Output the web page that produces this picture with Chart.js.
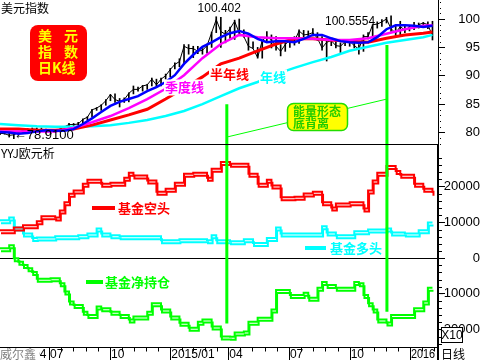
<!DOCTYPE html>
<html>
<head>
<meta charset="utf-8">
<script src="https://cdn.jsdelivr.net/npm/chart.js@4.4.0/dist/chart.umd.min.js"></script>
<style>
  html, body { margin: 0; padding: 0; background: #fff; }
  #wrap { position: relative; width: 480px; height: 360px; overflow: hidden; }
  #top { position: absolute; left: 0; top: 0; }
  #bottom { position: absolute; left: 0; top: 145px; }
</style>
</head>
<body>
<div id="wrap">
  <canvas id="top" width="480" height="145"></canvas>
  <canvas id="bottom" width="480" height="215"></canvas>
</div>
<script>
// US dollar index, one bar per week (week 0 = mid April 2014)
const dxyHigh = [80.2,80.1,79.9,79.8,80.2,80.4,80.7,80.8,80.8,80.8,80.6,80.4,80.3,80.6,81.1,81.6,81.6,81.8,82.4,82.8,
  84.1,84.4,84.9,85.8,86.7,86.8,86.0,86.1,87.0,88.2,88.0,88.3,88.5,89.6,89.4,89.6,90.3,91.3,92.3,93.0,
  95.5,95.5,95.2,95.2,94.8,95.6,97.7,100.4,100.3,98.0,98.6,99.8,100.0,98.1,97.1,96.0,95.0,96.3,97.8,97.2,
  96.9,95.5,95.8,96.5,96.9,98.1,98.0,97.9,98.3,97.6,96.9,96.2,96.5,96.3,95.8,96.4,96.3,96.3,95.5,97.2,
  97.6,99.0,99.5,99.9,100.3,100.56,98.8,99.6,98.8,98.9,99.4,99.3,99.4,99.5,99.6];
const dxyLow = [79.6,79.7,79.2,78.91,79.5,79.9,80.3,80.4,80.4,80.3,79.9,79.8,80.0,80.1,80.6,80.9,81.2,81.3,81.6,82.2,
  82.7,83.9,83.9,84.8,85.6,85.3,84.5,85.3,85.4,86.8,87.3,87.3,87.6,88.2,87.9,88.2,89.4,89.8,91.2,91.6,
  92.2,93.8,93.2,93.9,93.8,94.0,95.0,97.6,95.0,95.8,96.4,96.4,97.1,96.8,94.5,94.8,93.1,93.1,96.1,94.9,
  94.5,93.5,94.3,95.0,95.4,95.7,96.8,96.7,97.0,96.2,94.5,92.6,95.3,94.9,94.1,95.3,95.2,94.9,93.8,94.3,
  96.5,96.7,98.4,98.7,99.3,97.8,96.9,97.2,97.6,97.9,98.1,98.4,98.5,98.3,96.3];
const dxyClose = [79.85,79.8,79.5,79.6,80.0,80.4,80.4,80.6,80.6,80.4,80.1,80.2,80.2,80.6,81.0,81.4,81.4,81.5,82.3,82.7,
  84.0,84.3,84.8,85.6,86.7,85.8,85.5,85.8,86.9,87.6,87.6,88.2,88.4,89.4,88.4,89.4,90.0,91.1,92.0,92.5,
  95.2,94.8,94.8,94.3,94.5,95.3,97.6,99.9,97.8,97.3,98.3,99.6,97.5,96.9,95.2,94.8,93.2,96.2,96.9,96.3,
  95.2,94.3,95.5,96.3,96.1,97.9,97.2,97.3,97.6,96.6,94.9,95.9,96.2,95.3,95.2,96.0,96.1,95.3,94.7,96.9,
  96.9,99.0,99.1,99.5,100.0,98.3,97.5,98.7,98.0,98.6,98.4,99.0,99.3,99.0,97.0];

// moving averages: blue read every 2 weeks, the slower ones every 4 weeks
const fastWeeks = [0,2,4,6,8,10,12,14,16,18,20,22,24,26,28,30,32,34,36,38,40,42,44,46,
  48,50,52,54,56,58,60,62,64,66,68,70,72,74,76,78,80,82,84,86,88,90,92,94];
const maBlue = [80.1,80.0,79.8,79.9,80.2,80.4,80.3,80.3,80.6,81.5,82.5,83.6,84.7,85.4,85.9,86.4,87.3,88.0,88.9,90.1,92.1,93.7,95.1,95.9,
  96.8,97.5,97.9,97.4,96.5,95.9,96.1,96.1,95.9,96.5,97.2,97.2,96.6,96.1,95.9,95.8,95.9,96.8,98.2,98.9,98.9,98.8,98.6,98.8];
const slowWeeks = [0,4,8,12,16,20,24,28,32,36,40,44,48,52,56,60,64,68,72,76,80,84,88,92,94];
const maQuarter = [80.2,80.2,80.2,80.2,80.8,81.8,82.9,84.3,85.9,87.7,90.1,93.1,95.6,97.2,96.8,96.6,96.6,96.5,96.3,96.3,96.6,97.4,98.2,98.8,98.9];
const maHalfYear = [80.6,80.6,80.4,80.4,80.6,81.3,82.2,83.1,84.1,85.9,87.8,89.8,92.1,93.1,94.4,95.6,96.5,96.5,96.3,96.1,95.9,96.6,97.2,97.5,97.7];
const maYear = [81.5,81.3,81.1,81.0,81.0,81.1,81.3,81.7,82.2,82.9,83.8,85.0,86.4,87.8,88.9,90.3,91.4,92.4,93.3,94.4,95.1,95.8,96.3,96.8,97.2];

// fund positions (weekly)
const fundShort = [7800,7800,7800,8600,8600,9200,9200,9200,10300,11700,
  11700,11700,11400,13300,15600,18000,18900,18900,20800,21900,
  21900,21900,20800,20800,21100,21100,21100,22500,23900,23100,
  23100,23100,21700,21700,18600,18600,19400,19400,21100,21100,
  23600,23600,23900,23900,23900,22500,25000,25000,26900,26900,
  26400,26400,26400,26400,23600,23600,20800,20800,21900,20300,
  20300,17000,17000,17000,17200,17200,18100,18100,18600,18600,
  15600,15600,14200,15300,15300,15300,15600,15600,15600,13900,
  18900,21700,23900,23900,25800,25800,24400,23300,23300,23300,
  20800,20800,19400,19400,18300];
const fundLong = [10600,10600,11400,8600,8600,6900,6900,5600,5800,5800,
  5800,5800,6100,6100,6100,6100,6100,6400,6400,6900,
  6900,8300,6900,6900,6400,6400,6100,6100,6100,6100,
  6100,6100,6100,6100,6100,5000,5000,5000,5000,5300,
  5300,5300,5300,5300,5300,5000,6400,5000,5000,5000,
  4700,4700,4700,5300,5300,4200,4200,4200,5600,5600,
  8600,6900,6900,6900,6900,6900,6900,6900,6900,6900,
  8900,7200,7200,6400,6400,6400,6400,7500,7500,7500,
  8000,8000,8000,8000,8300,7200,7200,7200,6900,6900,
  6900,7800,7800,10000,10000];
const fundNet = [2800,2800,3600,0,-1000,-1900,-2800,-3900,-5800,-5800,
  -5800,-5600,-5600,-7000,-9300,-12100,-13100,-13100,-15000,-15900,
  -15900,-13500,-14000,-14000,-15000,-15000,-15900,-15900,-17200,-16300,
  -16300,-16300,-15000,-12600,-12600,-14400,-14400,-16300,-16300,-18100,
  -18100,-19500,-19500,-17800,-17200,-17200,-19100,-19100,-21900,-21900,
  -22000,-20800,-20800,-20500,-17800,-17800,-16700,-16700,-16700,-14400,
  -8900,-8900,-8900,-10300,-10300,-10300,-9700,-11100,-11100,-8300,
  -6700,-7500,-7500,-8300,-8300,-8300,-8300,-6700,-7000,-10300,
  -12600,-14400,-17200,-17200,-18000,-15900,-15900,-15900,-15900,-15900,
  -14000,-14000,-12100,-8300,-8300];

// axis ticks and labels
const topTicks = [80, 85, 90, 95, 100];
const bottomTicks = [20000, 10000, 0, -10000, -20000];
const quarterWeeks = [-2.4, 10.65, 23.9, 37, 49.6, 62.8, 76, 89.1];
const quarterLabels = ["2014/04", "07", "10", "2015/01", "04", "07", "10", "2016"];
const peakTexts = ["100.402", "100.5554", "\u219078.9100"];

// green signal marks: weeks, where they start in each panel, divergence line ends
const signalWeeks = [49.3, 84.1];
const signalTopFrom = [85.0, 95.4];
const signalBottomTo = [-18300, -15000];
const divergence = [79.2, 85.9];

const TOP_MIN = 77.8, TOP_MAX = 103.35;
const BOT_MIN = -24860, BOT_MAX = 31650;
const X_MAX = 95.2;

const pts = (xs, ys) => ys.map((v, i) => ({ x: xs[i], y: v }));
const weekIdx = dxyHigh.map((_, i) => i);

function rightAxis(min, max, ticks, borderWidth, pad) {
  return {
    position: "right",
    min: min,
    max: max,
    afterBuildTicks: (s) => { s.ticks = ticks.map((v) => ({ value: v })); },
    afterFit: (s) => { s.width = 42; s.paddingTop = 0; s.paddingBottom = 0; },
    grid: { drawOnChartArea: false, tickLength: 7, tickColor: "#000" },
    border: { color: "#000", width: borderWidth },
    ticks: {
      color: "#000",
      padding: pad,
      crossAlign: "far",
      font: { family: "Liberation Sans", size: 13 },
      callback: (v) => String(v),
    },
  };
}

function text(ctx, str, x, y, color, font, bg, align) {
  ctx.font = font;
  ctx.textAlign = align || "left";
  ctx.textBaseline = "middle";
  const w = ctx.measureText(str).width;
  if (bg) {
    const left = ctx.textAlign === "left" ? x : ctx.textAlign === "right" ? x - w : x - w / 2;
    ctx.fillStyle = bg;
    ctx.fillRect(left - 1, y - 8, w + 2, 16);
  }
  ctx.fillStyle = color;
  ctx.fillText(str, x, y);
}

function roundBox(ctx, x, y, w, h, r, fill, stroke) {
  ctx.beginPath();
  ctx.roundRect(x, y, w, h, r);
  ctx.fillStyle = fill;
  ctx.fill();
  if (stroke) {
    ctx.strokeStyle = stroke;
    ctx.lineWidth = 1.5;
    ctx.stroke();
  }
}

const CJK = '"Noto Sans CJK SC"';

// decorations on the index panel
const topDecor = {
  id: "topDecor",
  afterDraw(chart) {
    const ctx = chart.ctx;
    const xs = chart.scales.x, ys = chart.scales.y;
    const area = chart.chartArea;
    ctx.save();
    // panel separator
    ctx.strokeStyle = "#000";
    ctx.lineWidth = 1;
    ctx.beginPath();
    ctx.moveTo(0, area.bottom - 0.5);
    ctx.lineTo(area.right, area.bottom - 0.5);
    ctx.stroke();
    // minor dots on the price axis
    ctx.fillStyle = "#000";
    for (let v = Math.ceil(TOP_MIN); v < TOP_MAX; v++) {
      if (v % 5 === 0) continue;
      ctx.fillRect(area.right + 2, Math.round(ys.getPixelForValue(v)), 1, 1);
    }

    text(ctx, "美元指数", 1, 8, "#000", "12px " + CJK);

    roundBox(ctx, 30, 25, 57, 56, 8, "#ff0000");
    ctx.font = "bold 14px " + CJK;
    ctx.fillStyle = "#ffff00";
    ctx.textBaseline = "middle";
    ctx.textAlign = "left";
    ctx.fillText("美", 38, 36);
    ctx.fillText("元", 64, 36);
    ctx.fillText("指", 38, 52);
    ctx.fillText("数", 64, 52);
    ctx.fillText("日K线", 38, 68);

    text(ctx, "季度线", 165, 87.5, "#ff00ff", "bold 13px " + CJK, "#fff");
    text(ctx, "半年线", 210, 74, "#ff0000", "bold 13px " + CJK, "#fff");
    text(ctx, "年线", 260, 77.5, "#00ffff", "bold 13px " + CJK, "#fff");

    roundBox(ctx, 287.5, 103.5, 60, 27, 6, "#ffff00", "#22dd00");
    ctx.font = "bold 12px " + CJK;
    ctx.fillStyle = "#22cc00";
    ctx.textAlign = "left";
    ctx.fillText("能量形态", 293, 111.5);
    ctx.fillText("底背离", 293, 123.5);

    // extreme value labels, anchored to the bars
    const firstPeak = dxyHigh.indexOf(Math.max(...dxyHigh.slice(0, 60)));
    const lastPeak = dxyHigh.indexOf(Math.max(...dxyHigh.slice(60)));
    const low = dxyLow.indexOf(Math.min(...dxyLow));
    text(ctx, peakTexts[0], xs.getPixelForValue(firstPeak) + 3, ys.getPixelForValue(dxyHigh[firstPeak]) - 8,
      "#000", "12px Liberation Sans", null, "center");
    text(ctx, peakTexts[1], xs.getPixelForValue(lastPeak) - 16, ys.getPixelForValue(dxyHigh[lastPeak]) + 6,
      "#000", "12px Liberation Sans", null, "right");
    text(ctx, peakTexts[2], xs.getPixelForValue(low), ys.getPixelForValue(dxyLow[low]) - 3,
      "#000", "13px Liberation Sans");
    ctx.restore();
  },
};

// decorations on the fund position panel
const bottomDecor = {
  id: "bottomDecor",
  beforeDatasetDraw(chart, args) {
    const ds = chart.data.datasets[args.index];
    chart.ctx.save();
    if (ds.stepped) {
      chart.ctx.shadowColor = ds.borderColor;
      chart.ctx.shadowOffsetX = 1;
      chart.ctx.shadowOffsetY = 3;
    }
  },
  afterDatasetDraw(chart) {
    chart.ctx.restore();
  },
  afterDraw(chart) {
    const ctx = chart.ctx;
    const xs = chart.scales.x, ys = chart.scales.y;
    const area = chart.chartArea;
    const H = chart.height;
    ctx.save();

    text(ctx, "YYJ欧元析", 1, 8, "#000", "12px " + CJK);

    ctx.fillStyle = "#ff0000";
    ctx.fillRect(92, 61, 23, 4);
    text(ctx, "基金空头", 118, 63, "#ff0000", "bold 13px " + CJK);
    ctx.fillStyle = "#00ffff";
    ctx.fillRect(305, 101, 21, 4);
    text(ctx, "基金多头", 330, 103, "#00ffff", "bold 13px " + CJK);
    ctx.fillStyle = "#00ff00";
    ctx.fillRect(86, 135, 17, 4);
    text(ctx, "基金净持仓", 105, 137, "#00ff00", "bold 13px " + CJK);

    // right axis minor ticks
    ctx.strokeStyle = "#000";
    ctx.lineWidth = 1;
    ctx.beginPath();
    for (let v = -24000; v <= 30000; v += 2000) {
      if (v % 10000 === 0) continue;
      const y = Math.round(ys.getPixelForValue(v)) + 0.5;
      ctx.moveTo(area.right, y);
      ctx.lineTo(area.right + 4, y);
    }
    ctx.stroke();
    // right border down through the date row
    ctx.fillStyle = "#000";
    ctx.fillRect(area.right - 1, area.bottom, 2, H - area.bottom);

    // date axis
    const axisY = area.bottom + 0.5;
    ctx.beginPath();
    ctx.moveTo(0, axisY);
    ctx.lineTo(area.right, axisY);
    const step = (quarterWeeks[2] - quarterWeeks[1]) / 5;
    for (let q = 0; q < quarterWeeks.length; q++) {
      const start = quarterWeeks[q];
      const end = q + 1 < quarterWeeks.length ? quarterWeeks[q + 1] : X_MAX;
      const n = q + 1 < quarterWeeks.length ? 5 : Math.floor((end - start) / step) + 1;
      const sub = q + 1 < quarterWeeks.length ? (end - start) / 5 : step;
      for (let k = 1; k < n; k++) {
        const x = Math.round(xs.getPixelForValue(start + k * sub)) + 0.5;
        if (x < 0 || x > area.right) continue;
        ctx.moveTo(x, axisY);
        ctx.lineTo(x, axisY + 4);
      }
      const xq = Math.round(xs.getPixelForValue(start)) + 0.5;
      if (xq >= 0) {
        ctx.moveTo(xq, axisY);
        ctx.lineTo(xq, H);
      }
    }
    ctx.stroke();
    ctx.font = "12px Liberation Sans";
    ctx.fillStyle = "#000";
    ctx.textAlign = "left";
    ctx.textBaseline = "middle";
    quarterWeeks.forEach((w, i) => {
      const x = Math.max(xs.getPixelForValue(w) + 1, 3);
      ctx.fillText(quarterLabels[i], x, area.bottom + 8, area.right - x - 3);
    });

    // watermark covers the clipped first date
    ctx.fillStyle = "#fff";
    ctx.fillRect(0, area.bottom + 1, 39, H - area.bottom);
    text(ctx, "威尔鑫", 0, area.bottom + 7, "#808080", "12px " + CJK);
    text(ctx, "日线", area.right + 3, area.bottom + 7, "#000", "12px " + CJK);

    // scale factor box
    ctx.fillStyle = "#fff";
    ctx.fillRect(area.right + 3, 182, 22, 16);
    ctx.strokeStyle = "#000";
    ctx.strokeRect(area.right + 3.5, 182.5, 21, 15);
    text(ctx, "X10", area.right + 14, 190.5, "#000", "12px Liberation Sans", null, "center");
    ctx.restore();
  },
};

const topLine = (data, color, width) => ({
  type: "line",
  data: data,
  borderColor: color,
  borderWidth: width,
  pointRadius: 0,
  tension: 0,
});

new Chart(document.getElementById("top"), {
  type: "bar",
  data: {
    datasets: [
      topLine([{ x: signalWeeks[0], y: signalTopFrom[0] }, { x: signalWeeks[0], y: TOP_MIN }], "#00ff00", 3),
      topLine([{ x: signalWeeks[1], y: signalTopFrom[1] }, { x: signalWeeks[1], y: TOP_MIN }], "#00ff00", 3),
      topLine(pts(signalWeeks, divergence), "#00ff00", 1),
      topLine(pts(fastWeeks, maBlue), "#0000ff", 2.5),
      topLine(pts(slowWeeks, maQuarter), "#ff00ff", 2.5),
      topLine(pts(slowWeeks, maHalfYear), "#ff0000", 3),
      topLine(pts(slowWeeks, maYear), "#00ffff", 2.5),
      topLine(pts(weekIdx, dxyClose), "#000", 1),
      {
        type: "bar",
        data: weekIdx.map((w) => ({ x: w, y: [dxyLow[w], dxyHigh[w]] })),
        backgroundColor: "#000",
        barThickness: 1,
      },
    ],
  },
  options: {
    responsive: false,
    animation: false,
    layout: { padding: 0 },
    plugins: { legend: { display: false }, tooltip: { enabled: false } },
    scales: {
      x: { type: "linear", min: 0, max: X_MAX, offset: false, display: false },
      y: rightAxis(TOP_MIN, TOP_MAX, topTicks, 1, 12),
    },
  },
  plugins: [topDecor],
});

const stepLine = (data, color) => ({
  data: pts(weekIdx, data),
  borderColor: color,
  borderWidth: 2,
  pointRadius: 0,
  stepped: "before",
});

new Chart(document.getElementById("bottom"), {
  type: "line",
  data: {
    datasets: [
      topLine([{ x: signalWeeks[0], y: BOT_MAX }, { x: signalWeeks[0], y: signalBottomTo[0] }], "#00ff00", 3),
      topLine([{ x: signalWeeks[1], y: BOT_MAX }, { x: signalWeeks[1], y: signalBottomTo[1] }], "#00ff00", 3),
      stepLine(fundShort, "#ff0000"),
      stepLine(fundLong, "#00ffff"),
      stepLine(fundNet, "#00ff00"),
    ],
  },
  options: {
    responsive: false,
    animation: false,
    layout: { padding: { bottom: 13 } },
    plugins: { legend: { display: false }, tooltip: { enabled: false } },
    scales: {
      x: { type: "linear", min: 0, max: X_MAX, display: false },
      y: Object.assign(rightAxis(BOT_MIN, BOT_MAX, bottomTicks, 2, -7), {
        grid: {
          drawOnChartArea: true,
          tickLength: 7,
          tickColor: "#000",
          color: (c) => (c.tick && c.tick.value === 0 ? "#000" : "rgba(0,0,0,0)"),
        },
      }),
    },
  },
  plugins: [bottomDecor],
});
</script>
</body>
</html>
